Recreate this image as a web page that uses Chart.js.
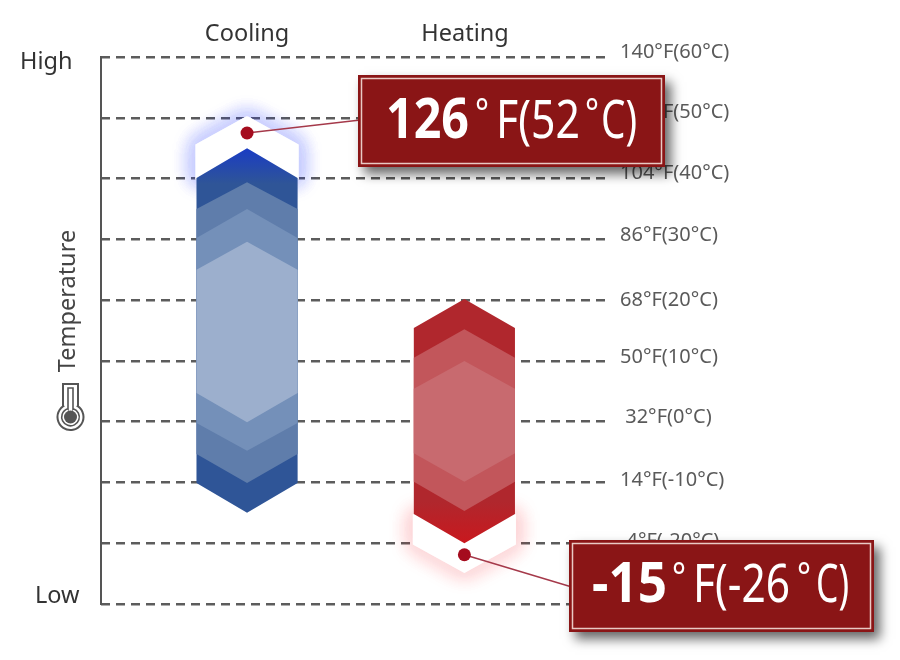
<!DOCTYPE html>
<html>
<head>
<meta charset="utf-8">
<style>html,body{margin:0;padding:0;background:#fff}canvas{display:block}</style>
<script src="https://cdn.jsdelivr.net/npm/chart.js@4"></script>
</head>
<body>
<canvas id="c" width="900" height="660" style="width:900px;height:660px"></canvas>
<script>
const categories = ['Cooling', 'Heating'];
const tickValues = [60, 50, 40, 30, 20, 10, 0, -10, -20, -30];
const tickLabels = ['140°F(60°C)', '122°F(50°C)', '104°F(40°C)', '86°F(30°C)', '68°F(20°C)', '50°F(10°C)', '\u00a032°F(0°C)', '14°F(-10°C)', '-4°F(-20°C)', ''];
const tickNudges = [-5, -5, -5, -4, 0, -4, -4, -2, -2, 0];

// each band: top apex, top shoulder, bottom shoulder, bottom apex (°C)
const coolingExtreme = [50.1, 45.5, 40.0, 40.0];
const coolingBand1 = [45.0, 40.1, -10.1, -15.0];
const coolingBand2 = [39.4, 35.0, -5.3, -10.1];
const coolingBand3 = [35.0, 30.2, -0.2, -4.8];
const coolingBand4 = [29.6, 25.0, 4.7, -0.1];
const heatingExtreme = [-15.4, -15.4, -20.1, -24.7];
const heatingBand1 = [20.2, 15.4, -15.2, -20.0];
const heatingBand2 = [15.2, 10.5, -9.9, -14.7];
const heatingBand3 = [10.0, 5.4, -5.2, -9.9];

const coolingMarker = [47.5];
const heatingMarker = [-21.9];
const coolingLeader = [49.6];
const heatingLeader = [-27.2];
const coolingCallout = ['126', '°', 'F(52', '°', 'C)'];
const heatingCallout = ['-15', '°', 'F(-26', '°', 'C)'];

const halfWidth = 0.232;
const coolX = 1;
const heatX = 1.997;
function hexagon(center, b) {
  return [
    {x: center, y: b[0]}, {x: center + halfWidth, y: b[1]}, {x: center + halfWidth, y: b[2]},
    {x: center, y: b[3]}, {x: center - halfWidth, y: b[2]}, {x: center - halfWidth, y: b[1]},
    {x: center, y: b[0]}
  ];
}
function shape(center, b, color) {
  return {data: hexagon(center, b), showLine: true, fill: 'shape', backgroundColor: color,
    borderWidth: 0, pointRadius: 0, tension: 0};
}
function glow(center, b, color) {
  return {data: hexagon(center, b), showLine: true, fill: false, borderColor: '#fff', borderWidth: 2,
    pointRadius: 0, tension: 0, glow: color};
}

const coolBand1Layer = shape(coolX, coolingBand1, '#2f5597');
const heatBand1Layer = shape(heatX, heatingBand1, '#b0272d');
const gradients = [
  {layer: coolBand1Layer, from: coolingBand1[0], to: coolingBand1[1] - 1, c1: '#1a3cc4', c2: '#2f5597'},
  {layer: heatBand1Layer, from: heatingBand1[2] + 2, to: heatingBand1[3], c1: '#b0272d', c2: '#c9181e'}
];

const layers = [
  glow(coolX, coolingExtreme, 'rgba(40,60,255,1)'),
  glow(coolX, coolingExtreme, 'rgba(40,60,255,1)'),
  glow(coolX, coolingExtreme, 'rgba(40,60,255,1)'),
  shape(coolX, coolingExtreme, '#ffffff'),
  coolBand1Layer,
  shape(coolX, coolingBand2, '#5f7dab'),
  shape(coolX, coolingBand3, '#7490b9'),
  shape(coolX, coolingBand4, '#9cafcd'),
  glow(heatX, heatingExtreme, 'rgba(240,40,50,1)'),
  glow(heatX, heatingExtreme, 'rgba(240,40,50,1)'),
  shape(heatX, heatingExtreme, '#ffffff'),
  heatBand1Layer,
  shape(heatX, heatingBand2, '#c2565b'),
  shape(heatX, heatingBand3, '#c86a6f'),
  {data: [{x: coolX, y: coolingMarker[0]}, {x: 1.51, y: coolingLeader[0]}], showLine: true, borderColor: '#a5394a', borderWidth: 1.5, pointRadius: 0},
  {data: [{x: heatX, y: heatingMarker[0]}, {x: 2.49, y: heatingLeader[0]}], showLine: true, borderColor: '#a5394a', borderWidth: 1.5, pointRadius: 0},
  {data: [{x: coolX, y: coolingMarker[0]}, {x: heatX, y: heatingMarker[0]}], showLine: false, pointRadius: 6.5, pointBackgroundColor: '#a50c1e', pointBorderWidth: 0}
];

const FONT = '"Noto Sans", sans-serif';

const gradientPlugin = {
  id: 'gradientPlugin',
  afterLayout(chart) {
    const s = chart.scales.y;
    gradients.forEach(g => {
      const grad = chart.ctx.createLinearGradient(0, s.getPixelForValue(g.from), 0, s.getPixelForValue(g.to));
      grad.addColorStop(0, g.c1);
      grad.addColorStop(1, g.c2);
      g.layer.backgroundColor = grad;
    });
  },
  beforeDraw(chart) {
    chart.scales.y.getLabelItems(chart.chartArea).forEach(item => {
      const i = tickLabels.indexOf(item.label);
      if (i >= 0) item.options.translation[1] += tickNudges[i];
    });
  }
};

const glowPlugin = {
  id: 'glowPlugin',
  beforeDatasetDraw(chart, args) {
    const c = chart.data.datasets[args.index].glow;
    if (c) {
      chart.ctx.save();
      chart.ctx.shadowColor = c;
      chart.ctx.shadowBlur = 20;
    }
  },
  afterDatasetDraw(chart, args) {
    if (chart.data.datasets[args.index].glow) chart.ctx.restore();
  }
};

function callout(ctx, x, y, w, h, parts, base, slots) {
  ctx.save();
  ctx.shadowColor = 'rgba(0,0,0,0.6)';
  ctx.shadowBlur = 11;
  ctx.shadowOffsetX = 6;
  ctx.shadowOffsetY = 7;
  ctx.fillStyle = '#8a1516';
  ctx.fillRect(x, y, w, h);
  ctx.restore();
  ctx.strokeStyle = '#e9c9c4';
  ctx.lineWidth = 1.5;
  ctx.strokeRect(x + 3.5, y + 3.5, w - 7, h - 7);
  ctx.fillStyle = '#fff';
  ctx.textAlign = 'left';
  ctx.textBaseline = 'alphabetic';
  parts.forEach((p, i) => {
    const s = slots[i];
    ctx.font = (i === 0 ? '700 55px ' : (p === '°' ? '400 38px ' : '400 52px ')) + FONT;
    ctx.fillText(p, s[0], p === '°' ? base - 12 : base, s[1]);
  });
}

const decorPlugin = {
  id: 'decorPlugin',
  afterDraw(chart) {
    const ctx = chart.ctx;
    ctx.save();
    ctx.fillStyle = '#333';
    ctx.font = '23.5px ' + FONT;
    ctx.textBaseline = 'middle';
    ctx.textAlign = 'left';
    ctx.fillText('High', 20, 62);
    ctx.fillText('Low', 35, 596);
    ctx.save();
    ctx.translate(68, 301);
    ctx.rotate(-Math.PI / 2);
    ctx.textAlign = 'center';
    ctx.fillStyle = '#444';
    ctx.fillText('Temperature', 0, 0);
    ctx.restore();
    // thermometer icon
    ctx.strokeStyle = '#555';
    ctx.lineWidth = 2;
    ctx.beginPath();
    ctx.moveTo(63, 406);
    ctx.lineTo(63, 384);
    ctx.lineTo(78, 384);
    ctx.lineTo(78, 406);
    ctx.arc(70.5, 417, 13, -0.98, Math.PI + 0.98, false);
    ctx.closePath();
    ctx.stroke();
    ctx.lineWidth = 1.6;
    ctx.beginPath();
    ctx.moveTo(68, 409);
    ctx.lineTo(68, 388);
    ctx.lineTo(73, 388);
    ctx.lineTo(73, 409);
    ctx.arc(70.5, 417, 8.8, -1.25, Math.PI + 1.25, false);
    ctx.closePath();
    ctx.stroke();
    ctx.fillStyle = '#555';
    ctx.beginPath();
    ctx.arc(70.5, 417, 6.5, 0, Math.PI * 2);
    ctx.fill();
    callout(ctx, 358, 75, 307, 92, coolingCallout, 138, [[386, 83], [475, 14], [496, 84], [585, 14], [601, 36]]);
    callout(ctx, 569, 540, 305, 92, heatingCallout, 602, [[592, 75], [672, 14], [693, 97], [797, 14], [816, 33]]);
    ctx.restore();
  }
};

new Chart(document.getElementById('c'), {
  type: 'scatter',
  data: {datasets: layers.slice().reverse()},
  options: {
    responsive: false,
    animation: false,
    devicePixelRatio: 1,
    layout: {padding: {left: 101, right: 0, top: 0, bottom: 56}},
    plugins: {legend: {display: false}, tooltip: {enabled: false}, title: {display: false}},
    scales: {
      x: {
        type: 'linear', position: 'top', min: 0.33, max: 2.665,
        afterBuildTicks(a) { a.ticks = categories.map((_, i) => ({value: i + 1})); },
        afterFit(a) { a.height = 57; },
        grid: {display: false, drawTicks: false},
        border: {display: false},
        ticks: {
          callback: v => categories[v - 1] || '',
          autoSkip: false, maxRotation: 0,
          font: {family: 'Noto Sans', size: 23.5}, color: '#333', padding: 9
        }
      },
      y: {
        type: 'linear', position: 'right', min: -30, max: 60,
        afterBuildTicks(a) { a.ticks = tickValues.map(v => ({value: v})); },
        afterFit(a) { a.width = 290; },
        grid: {color: '#5c5c5c', lineWidth: 2.4, drawTicks: false},
        border: {display: false, dash: [9, 6]},
        ticks: {
          callback: v => tickLabels[tickValues.indexOf(v)],
          autoSkip: false,
          font: {family: 'Noto Sans', size: 20}, color: '#5a5a5a', padding: 10
        }
      },
      yAxisLine: {
        type: 'linear', axis: 'y', position: 'left', min: -30, max: 60,
        afterFit(a) { a.width = 0; },
        grid: {display: false, drawTicks: false},
        border: {display: true, color: '#555', width: 2},
        ticks: {display: false}
      }
    }
  },
  plugins: [gradientPlugin, glowPlugin, decorPlugin]
});
</script>
</body>
</html>
